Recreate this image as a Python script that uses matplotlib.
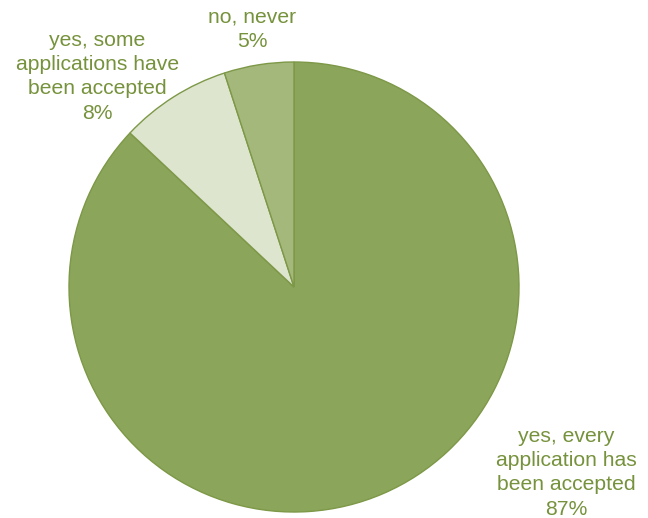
import matplotlib.pyplot as plt

plt.rcParams['font.family'] = ['Liberation Sans', 'DejaVu Sans']

# Survey answers, listed clockwise from 12 o'clock
labels = ['yes, every\napplication has\nbeen accepted', 'yes, some\napplications have\nbeen accepted', 'no, never']
shares = [87, 8, 5]
colors = ['#8ba55a', '#dde5cf', '#a4b87c']
# label anchor points in data units (pie radius = 1)
label_pos = [(1.21, -0.825), (-0.875, 0.935), (-0.185, 1.145)]

fig = plt.figure(figsize=(6.48, 5.18), dpi=100)
cx, cy, r = 294, 287, 225
W, H = 648, 518
ax = fig.add_axes([(cx - r) / W, (H - cy - r) / H, 2 * r / W, 2 * r / H])

ax.pie(shares, colors=colors, startangle=90, counterclock=False,
       radius=1, wedgeprops=dict(edgecolor='#7d9847', linewidth=1.0))

for lab, val, (x, y) in zip(labels, shares, label_pos):
    ax.text(x, y, f'{lab}\n{val}%', ha='center', va='center',
            fontsize=15.2, color='#76923c', linespacing=1.36)

ax.set_xlim(-1, 1)
ax.set_ylim(-1, 1)
ax.set_aspect('equal')
ax.axis('off')

fig.savefig('out.png', dpi=100)
